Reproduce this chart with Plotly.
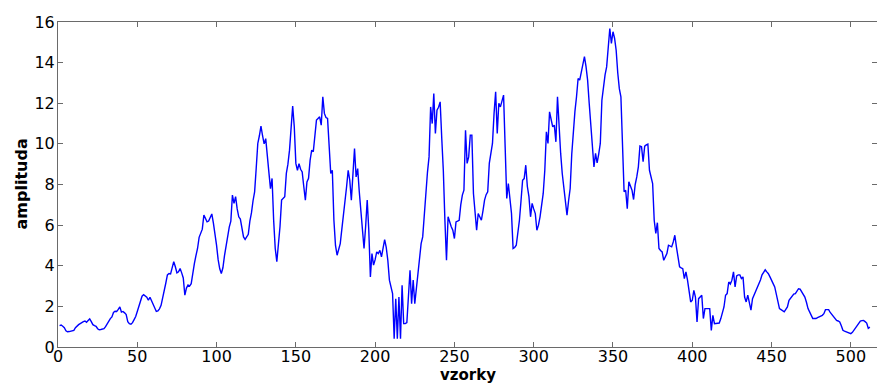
import plotly.graph_objects as go

# Amplitude per sample (samples 1..512)
amplituda = [
    1.05, 1.08, 1.02, 0.95, 0.80, 0.75, 0.76, 0.78, 0.80, 0.82,
    0.95, 1.05, 1.10, 1.15, 1.22, 1.25, 1.28, 1.22, 1.30, 1.38,
    1.25, 1.10, 1.05, 1.02, 0.90, 0.85, 0.86, 0.88, 0.90, 1.00,
    1.15, 1.25, 1.40, 1.48, 1.70, 1.76, 1.75, 1.85, 1.97, 1.72,
    1.75, 1.68, 1.60, 1.25, 1.15, 1.12, 1.20, 1.35, 1.50, 1.75,
    1.97, 2.25, 2.50, 2.58, 2.52, 2.45, 2.30, 2.45, 2.28, 2.10,
    1.90, 1.75, 1.78, 1.88, 2.05, 2.38, 2.75, 3.15, 3.55, 3.62,
    3.60, 3.85, 4.20, 3.95, 3.65, 3.70, 3.86, 3.65, 3.40, 2.55,
    2.90, 3.05, 3.00, 3.12, 3.70, 4.10, 4.50, 4.85, 5.40, 5.60,
    5.80, 6.50, 6.35, 6.16, 6.20, 6.40, 6.55, 6.10, 5.60, 5.00,
    4.30, 3.85, 3.62, 3.90, 4.50, 5.00, 5.40, 5.90, 6.20, 7.48,
    7.07, 7.40, 6.80, 6.41, 6.30, 5.90, 5.42, 5.30, 5.40, 5.55,
    6.20, 6.60, 7.20, 7.64, 8.80, 10.02, 10.40, 10.87, 10.40, 10.00,
    10.26, 9.20, 8.60, 7.80, 8.30, 6.24, 4.85, 4.20, 5.00, 5.92,
    7.23, 7.30, 7.40, 8.55, 9.00, 9.69, 11.00, 11.86, 10.84, 9.04,
    8.70, 9.03, 8.75, 8.62, 7.90, 7.23, 8.13, 8.30, 9.20, 9.69,
    9.61, 10.50, 11.17, 11.25, 11.33, 10.92, 12.32, 11.50, 11.30, 11.25,
    10.00, 8.54, 8.70, 6.24, 5.00, 4.52, 4.80, 5.09, 5.80, 6.41,
    7.20, 7.89, 8.70, 8.21, 7.23, 8.87, 9.77, 8.37, 8.78, 7.64,
    6.60, 5.75, 4.85, 5.92, 7.23, 5.75, 3.45, 4.60, 4.03, 4.30,
    4.68, 4.60, 4.76, 4.44, 4.80, 5.29, 4.90, 4.27, 3.29, 2.90,
    2.63, 0.41, 2.38, 0.41, 2.46, 0.41, 3.04, 1.15, 1.15, 1.20,
    2.79, 3.78, 2.13, 3.29, 2.13, 2.80, 3.45, 4.20, 5.09, 5.42,
    6.50, 7.89, 8.60, 9.36, 11.82, 11.00, 12.48, 10.51, 11.66, 11.80,
    12.07, 10.30, 8.70, 6.24, 4.27, 6.41, 6.10, 5.92, 5.75, 5.34,
    6.16, 6.20, 6.24, 7.00, 7.48, 7.72, 10.67, 9.04, 9.36, 10.43,
    10.43, 7.56, 6.50, 5.75, 6.57, 6.40, 6.24, 6.70, 7.23, 7.50,
    7.64, 9.04, 9.50, 10.02, 11.50, 12.56, 10.51, 12.00, 11.82, 12.10,
    12.40, 9.85, 7.31, 8.05, 7.20, 6.57, 4.85, 4.90, 5.01, 5.60,
    6.24, 7.20, 8.21, 8.29, 8.95, 7.90, 7.40, 6.41, 7.07, 6.80,
    6.57, 5.75, 6.00, 6.41, 7.00, 7.56, 8.70, 10.59, 10.02, 11.58,
    11.20, 10.84, 10.92, 10.10, 12.32, 10.50, 9.53, 8.54, 7.80, 7.07,
    6.49, 7.20, 7.80, 9.50, 10.84, 11.60, 12.32, 13.22, 13.14, 13.50,
    13.90, 14.29, 13.80, 13.14, 12.00, 10.84, 9.53, 8.87, 9.53, 9.07,
    9.50, 10.02, 12.15, 12.90, 13.40, 13.79, 14.70, 15.68, 14.94, 15.52,
    15.20, 14.61, 13.50, 12.72, 12.32, 9.86, 7.64, 7.72, 6.81, 8.13,
    7.90, 7.72, 7.26, 8.00, 8.37, 8.87, 9.89, 9.86, 9.12, 9.89,
    9.95, 9.99, 8.70, 8.40, 8.05, 6.24, 5.59, 6.12, 4.85, 4.75,
    4.68, 4.27, 4.40, 4.60, 5.01, 4.95, 4.93, 5.17, 5.50, 4.93,
    4.40, 3.95, 3.90, 3.86, 3.37, 3.70, 3.29, 2.70, 2.22, 2.30,
    2.79, 2.46, 1.23, 2.38, 2.46, 2.55, 1.40, 1.89, 1.89, 1.89,
    1.89, 0.82, 1.56, 1.15, 1.15, 1.18, 1.18, 1.40, 1.64, 1.97,
    2.55, 2.63, 3.20, 3.10, 3.29, 3.70, 2.96, 3.50, 3.55, 3.55,
    3.37, 3.45, 2.46, 2.22, 2.55, 2.10, 1.81, 2.38, 2.55, 2.79,
    2.90, 3.12, 3.30, 3.55, 3.65, 3.80, 3.70, 3.61, 3.45, 3.25,
    3.12, 2.96, 2.60, 2.20, 1.89, 1.84, 1.80, 1.73, 1.85, 1.97,
    2.30, 2.40, 2.55, 2.60, 2.63, 2.75, 2.87, 2.85, 2.71, 2.60,
    2.46, 2.20, 1.89, 1.73, 1.60, 1.40, 1.40, 1.40, 1.45, 1.48,
    1.52, 1.56, 1.64, 1.84, 1.84, 1.84, 1.70, 1.60, 1.50, 1.40,
    1.31, 1.28, 1.23, 1.05, 0.82, 0.78, 0.74, 0.72, 0.68, 0.66,
    0.72, 0.82, 0.95, 1.07, 1.18, 1.28, 1.30, 1.31, 1.25, 1.18,
    0.92, 0.98,
]
vzorky = list(range(1, len(amplituda) + 1))

x_ticks = [0, 50, 100, 150, 200, 250, 300, 350, 400, 450, 500]
y_ticks = [0, 2, 4, 6, 8, 10, 12, 14, 16]

fig = go.Figure()
fig.add_trace(go.Scatter(
    x=vzorky, y=amplituda, mode="lines",
    line=dict(color="#0000FF", width=1.4),
    showlegend=False, hoverinfo="skip",
))

axis_common = dict(
    showgrid=False, zeroline=False,
    showline=True, linecolor="#6a6a6a", linewidth=1,
    mirror="ticks", ticks="inside", ticklen=5, tickwidth=1, tickcolor="#6a6a6a",
    tickfont=dict(family="DejaVu Sans", size=16, color="#000000"),
)

fig.update_xaxes(range=[0, 516.5], tickvals=x_ticks,
                 ticktext=[str(v) for v in x_ticks],
                 ticklabelstandoff=-5, **axis_common)
fig.update_yaxes(range=[0, 16], tickvals=y_ticks,
                 ticktext=[str(v) for v in y_ticks],
                 ticklabelstandoff=-1, **axis_common)

fig.add_annotation(
    text="<b>vzorky</b>", xref="paper", yref="paper", x=0.5, y=0,
    yshift=-28, yanchor="middle", xanchor="center", showarrow=False,
    font=dict(family="DejaVu Sans", size=15, color="#000000"),
)
fig.add_annotation(
    text="<b>amplituda</b>", xref="paper", yref="paper", x=0, y=0.5,
    xshift=-37, xanchor="center", yanchor="middle", textangle=-90,
    showarrow=False,
    font=dict(family="DejaVu Sans", size=16, color="#000000"),
)

fig.update_layout(
    width=877, height=385,
    margin=dict(l=58, r=0, t=22, b=38),
    paper_bgcolor="#FFFFFF", plot_bgcolor="#FFFFFF",
)

fig.write_html("out.html")
